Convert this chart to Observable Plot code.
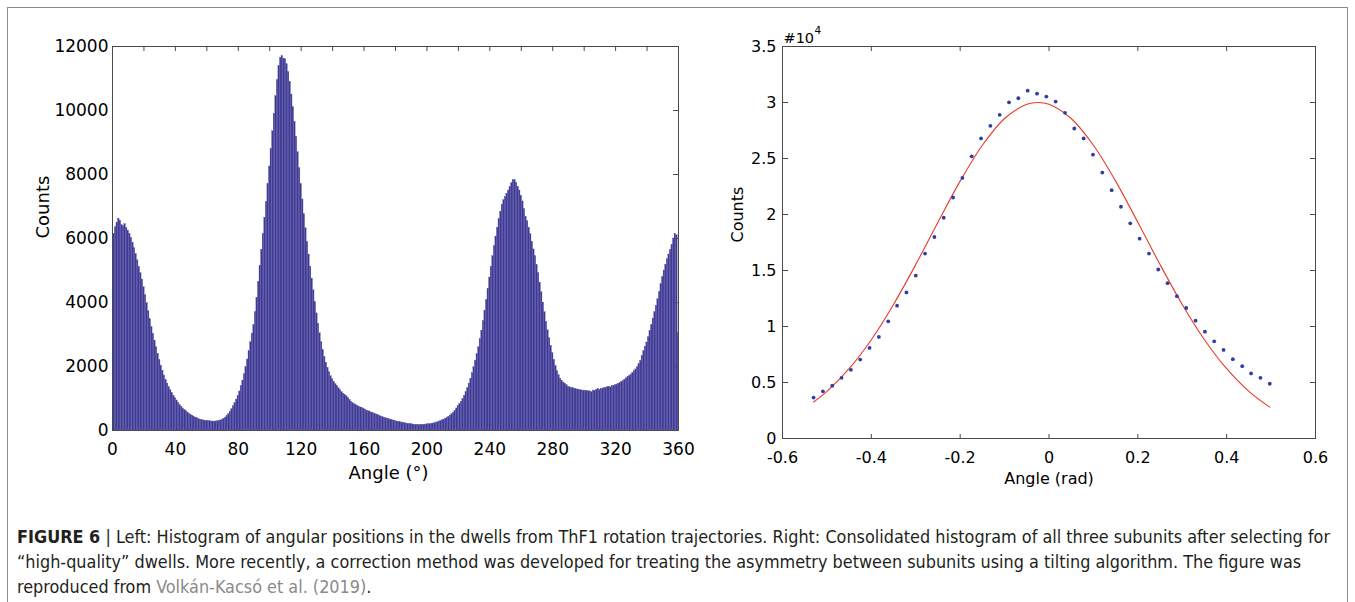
<!DOCTYPE html>
<html><head><meta charset="utf-8">
<script src="https://cdn.jsdelivr.net/npm/d3@7"></script>
<script src="https://cdn.jsdelivr.net/npm/@observablehq/plot@0.6"></script>
<style>
body{margin:0;background:#fff;}
#fig{position:relative;width:1355px;height:602px;overflow:hidden;background:#fff;}
#box{position:absolute;left:7px;top:7px;width:1341px;height:600px;border:1px solid #8c8c8c;box-sizing:border-box;}
#left{position:absolute;left:0;top:0;}
#right{position:absolute;left:700px;top:0;}
#cap{position:absolute;left:17px;top:524px;font-family:"Liberation Sans Narrow","DejaVu Sans Condensed","Liberation Sans",sans-serif;font-size:18px;line-height:25px;color:#231f20;white-space:nowrap;transform-origin:0 0;}
#cap b{font-weight:bold;}
#cap .lnk{color:#8a8a8a;}
</style></head>
<body>
<div id="fig">
  <div id="box"></div>
  <div id="left"></div>
  <div id="right"></div>
  <div id="cap">
    <div id="l1"><b>FIGURE 6</b> | Left: Histogram of angular positions in the dwells from ThF1 rotation trajectories. Right: Consolidated histogram of all three subunits after selecting for</div>
    <div>“high-quality” dwells. More recently, a correction method was developed for treating the asymmetry between subunits using a tilting algorithm. The figure was</div>
    <div>reproduced from <span class="lnk">Volkán-Kacsó et al. (2019)</span>.</div>
  </div>
</div>
<script>
// ---- Left panel: histogram of angular positions (1° bins, centred on 0..360) ----
const histCounts = [
  3150, 6150, 6350, 6500, 6620, 6560, 6420, 6380, 6450, 6330,
  6250, 6150, 6020, 5870, 5700, 5520, 5320, 5120, 4920, 4720,
  4480, 4230, 3980, 3730, 3480, 3240, 3020, 2810, 2600, 2400,
  2210, 2030, 1870, 1720, 1590, 1470, 1360, 1260, 1170, 1090,
  1010, 940, 870, 800, 740, 690, 640, 600, 560, 520,
  490, 460, 430, 400, 380, 360, 340, 330, 315, 305,
  300, 295, 290, 285, 280, 280, 285, 290, 300, 315,
  335, 365, 405, 455, 515, 585, 665, 755, 855, 965,
  1085, 1220, 1380, 1560, 1760, 1980, 2220, 2480, 2760, 3030,
  3300, 3700, 4150, 4650, 5150, 5650, 6150, 6650, 7150, 7700,
  8250, 8800, 9350, 9900, 10450, 10950, 11400, 11650, 11700, 11620,
  11600, 11450, 11200, 10900, 10500, 10100, 9650, 9180, 8700, 8200,
  7700, 7220, 6760, 6320, 5900, 5500, 5120, 4750, 4380, 4010,
  3660, 3340, 3040, 2760, 2520, 2300, 2120, 1960, 1820, 1700,
  1600, 1520, 1450, 1390, 1320, 1260, 1200, 1150, 1110, 1070,
  1020, 960, 900, 860, 820, 790, 770, 740, 720, 700,
  680, 650, 620, 600, 580, 560, 540, 520, 500, 480,
  460, 440, 420, 400, 385, 370, 355, 340, 325, 310,
  295, 280, 270, 260, 250, 240, 230, 220, 210, 200,
  195, 190, 185, 180, 178, 175, 175, 178, 180, 185,
  190, 195, 200, 210, 220, 230, 245, 260, 280, 300,
  320, 345, 370, 400, 430, 470, 510, 560, 620, 690,
  770, 830, 900, 990, 1090, 1200, 1330, 1470, 1620, 1790,
  1980, 2180, 2380, 2600, 2850, 3120, 3420, 3740, 4080, 4430,
  4780, 5120, 5450, 5760, 6060, 6340, 6600, 6840, 7060, 7200,
  7300, 7400, 7500, 7600, 7730, 7820, 7830, 7740, 7620, 7500,
  7340, 7160, 6920, 6680, 6540, 6340, 6140, 5900, 5660, 5450,
  5180, 4920, 4620, 4320, 4000, 3700, 3400, 3130, 2880, 2650,
  2420, 2210, 2020, 1860, 1730, 1620, 1550, 1500, 1460, 1420,
  1370, 1350, 1330, 1320, 1300, 1290, 1280, 1270, 1260, 1250,
  1250, 1240, 1230, 1230, 1220, 1200, 1250, 1230, 1270, 1300,
  1270, 1300, 1310, 1330, 1320, 1360, 1370, 1350, 1390, 1400,
  1420, 1440, 1460, 1490, 1520, 1550, 1590, 1630, 1670, 1710,
  1750, 1800, 1850, 1910, 1980, 2070, 2180, 2320, 2480, 2620,
  2750, 2920, 3110, 3300, 3500, 3700, 3900, 4100, 4330, 4570,
  4800, 5000, 5180, 5350, 5500, 5650, 5800, 6000, 6150, 6100,
  3050
];
const histAngles = histCounts.map((_, i) => i);   // bin centres in degrees
const leftXLabels = [0, 40, 80, 120, 160, 200, 240, 280, 320, 360];
const leftXMinor = [0, 20, 40, 60, 80, 100, 120, 140, 160, 180, 200, 220, 240, 260, 280, 300, 320, 340, 360];
const leftYTicks = [0, 2000, 4000, 6000, 8000, 10000, 12000];

// ---- Right panel: consolidated histogram (counts in units of 10^4) ----
const dotAngle = [-0.530, -0.509, -0.488, -0.467, -0.446, -0.425, -0.404, -0.383, -0.362, -0.342,
  -0.321, -0.300, -0.279, -0.258, -0.237, -0.216, -0.195, -0.174, -0.153, -0.132,
  -0.111, -0.090, -0.069, -0.048, -0.027, -0.006, 0.015, 0.036, 0.057, 0.078,
  0.099, 0.120, 0.141, 0.162, 0.183, 0.204, 0.225, 0.246, 0.267, 0.288,
  0.309, 0.330, 0.351, 0.372, 0.393, 0.414, 0.435, 0.455, 0.476, 0.497];
const dotCounts = [0.365, 0.421, 0.471, 0.542, 0.613, 0.705, 0.809, 0.907, 1.046, 1.186,
  1.304, 1.455, 1.651, 1.799, 1.971, 2.152, 2.327, 2.519, 2.679, 2.792,
  2.890, 3.002, 3.038, 3.106, 3.079, 3.053, 3.008, 2.908, 2.768, 2.679,
  2.534, 2.374, 2.217, 2.069, 1.921, 1.784, 1.651, 1.509, 1.387, 1.271,
  1.165, 1.052, 0.954, 0.868, 0.791, 0.708, 0.646, 0.581, 0.542, 0.489];
const fitAngle = [-0.53, -0.50, -0.45, -0.40, -0.35, -0.30, -0.25, -0.20, -0.15, -0.10, -0.05, -0.025,
  0.00, 0.05, 0.10, 0.15, 0.20, 0.25, 0.30, 0.35, 0.40, 0.45, 0.497];
const fitCounts = [0.326, 0.421, 0.623, 0.882, 1.197, 1.553, 1.931, 2.298, 2.618, 2.857, 2.984, 3.000,
  2.984, 2.857, 2.618, 2.298, 1.931, 1.553, 1.197, 0.882, 0.623, 0.421, 0.280];
const rightXTicks = [-0.6, -0.4, -0.2, 0, 0.2, 0.4, 0.6];
const rightYTicks = [0, 0.5, 1, 1.5, 2, 2.5, 3, 3.5];

const hist = histAngles.map((a, i) => ({angle: a, count: histCounts[i]}));
const dots = dotAngle.map((a, i) => ({angle: a, count: dotCounts[i]}));
const fit = fitAngle.map((a, i) => ({angle: a, count: fitCounts[i]}));

const AX = "#4a4a4a";
const fmt = d => String(+(+d).toFixed(1));

const leftPlot = Plot.plot({
  width: 700, height: 490,
  marginLeft: 112, marginRight: 22, marginTop: 46, marginBottom: 60,
  style: {fontFamily: "DejaVu Sans", fontSize: "17px", color: "#000", background: "transparent", overflow: "visible"},
  x: {domain: [0, 360], label: null},
  y: {domain: [0, 12000], label: null},
  marks: [
    Plot.axisX({anchor: "bottom", frameAnchor: "top", ticks: leftXMinor, tickSize: 5, tickFormat: () => "", stroke: AX, label: null}),
    Plot.axisY({anchor: "left", frameAnchor: "right", ticks: leftYTicks, tickSize: 5, tickFormat: () => "", stroke: AX, label: null}),
    Plot.rectY(hist, {x1: d => d.angle - 0.5, x2: d => d.angle + 0.5, y: "count", fill: "#3e3993", stroke: "#605cab", strokeWidth: 0.3, clip: true}),
    Plot.frame({stroke: AX}),
    Plot.axisX({anchor: "bottom", ticks: leftXLabels, tickSize: 0, tickPadding: 12, tickFormat: fmt, label: null}),
    Plot.axisY({anchor: "left", ticks: leftYTicks, tickSize: 0, tickPadding: 4, tickFormat: d => String(d), label: null}),
    Plot.text(["Counts"], {text: d => d, frameAnchor: "left", dx: -69, rotate: -90, fontSize: 18}),
    Plot.text(["Angle (°)"], {text: d => d, frameAnchor: "bottom", dx: -7, dy: 48, fontSize: 18})
  ]
});
document.getElementById("left").appendChild(leftPlot);

const rightPlot = Plot.plot({
  width: 655, height: 490,
  marginLeft: 82, marginRight: 40, marginTop: 46, marginBottom: 52,
  style: {fontFamily: "DejaVu Sans", fontSize: "16px", color: "#000", background: "transparent", overflow: "visible"},
  x: {domain: [-0.6, 0.6], label: null},
  y: {domain: [0, 3.5], label: null},
  marks: [
    Plot.axisX({anchor: "top", frameAnchor: "bottom", ticks: rightXTicks, tickSize: 5, tickFormat: () => "", stroke: AX, label: null}),
    Plot.axisX({anchor: "bottom", frameAnchor: "top", ticks: rightXTicks, tickSize: 5, tickFormat: () => "", stroke: AX, label: null}),
    Plot.axisY({anchor: "right", frameAnchor: "left", ticks: rightYTicks, tickSize: 5, tickFormat: () => "", stroke: AX, label: null}),
    Plot.axisY({anchor: "left", frameAnchor: "right", ticks: rightYTicks, tickSize: 5, tickFormat: () => "", stroke: AX, label: null}),
    Plot.frame({stroke: AX}),
    Plot.line(fit, {x: "angle", y: "count", stroke: "#e8392b", strokeWidth: 1.1, curve: "catmull-rom"}),
    Plot.dot(dots, {x: "angle", y: "count", r: 1.9, fill: "#2f3f9e", stroke: "none"}),
    Plot.axisX({anchor: "bottom", ticks: rightXTicks, tickSize: 0, tickPadding: 13, tickFormat: fmt, label: null}),
    Plot.axisY({anchor: "left", ticks: rightYTicks, tickSize: 0, tickPadding: 6, tickFormat: fmt, label: null}),
    Plot.text(["Counts"], {text: d => d, frameAnchor: "left", dx: -45, rotate: -90, fontSize: 16}),
    Plot.text(["Angle (rad)"], {text: d => d, frameAnchor: "bottom", dy: 45, fontSize: 16}),
    Plot.text(["#10"], {text: d => d, frameAnchor: "top-left", lineAnchor: "middle", dx: 1, dy: -8, textAnchor: "start", fontSize: 14.5}),
    Plot.text(["4"], {text: d => d, frameAnchor: "top-left", lineAnchor: "middle", dx: 32, dy: -16, textAnchor: "start", fontSize: 10.5})
  ]
});
document.getElementById("right").appendChild(rightPlot);

// fit caption first line to the reference width
const cap = document.getElementById("cap");
const w = document.getElementById("l1").getBoundingClientRect().width;
cap.style.transform = `scaleX(${1313 / w})`;
</script>
</body></html>
